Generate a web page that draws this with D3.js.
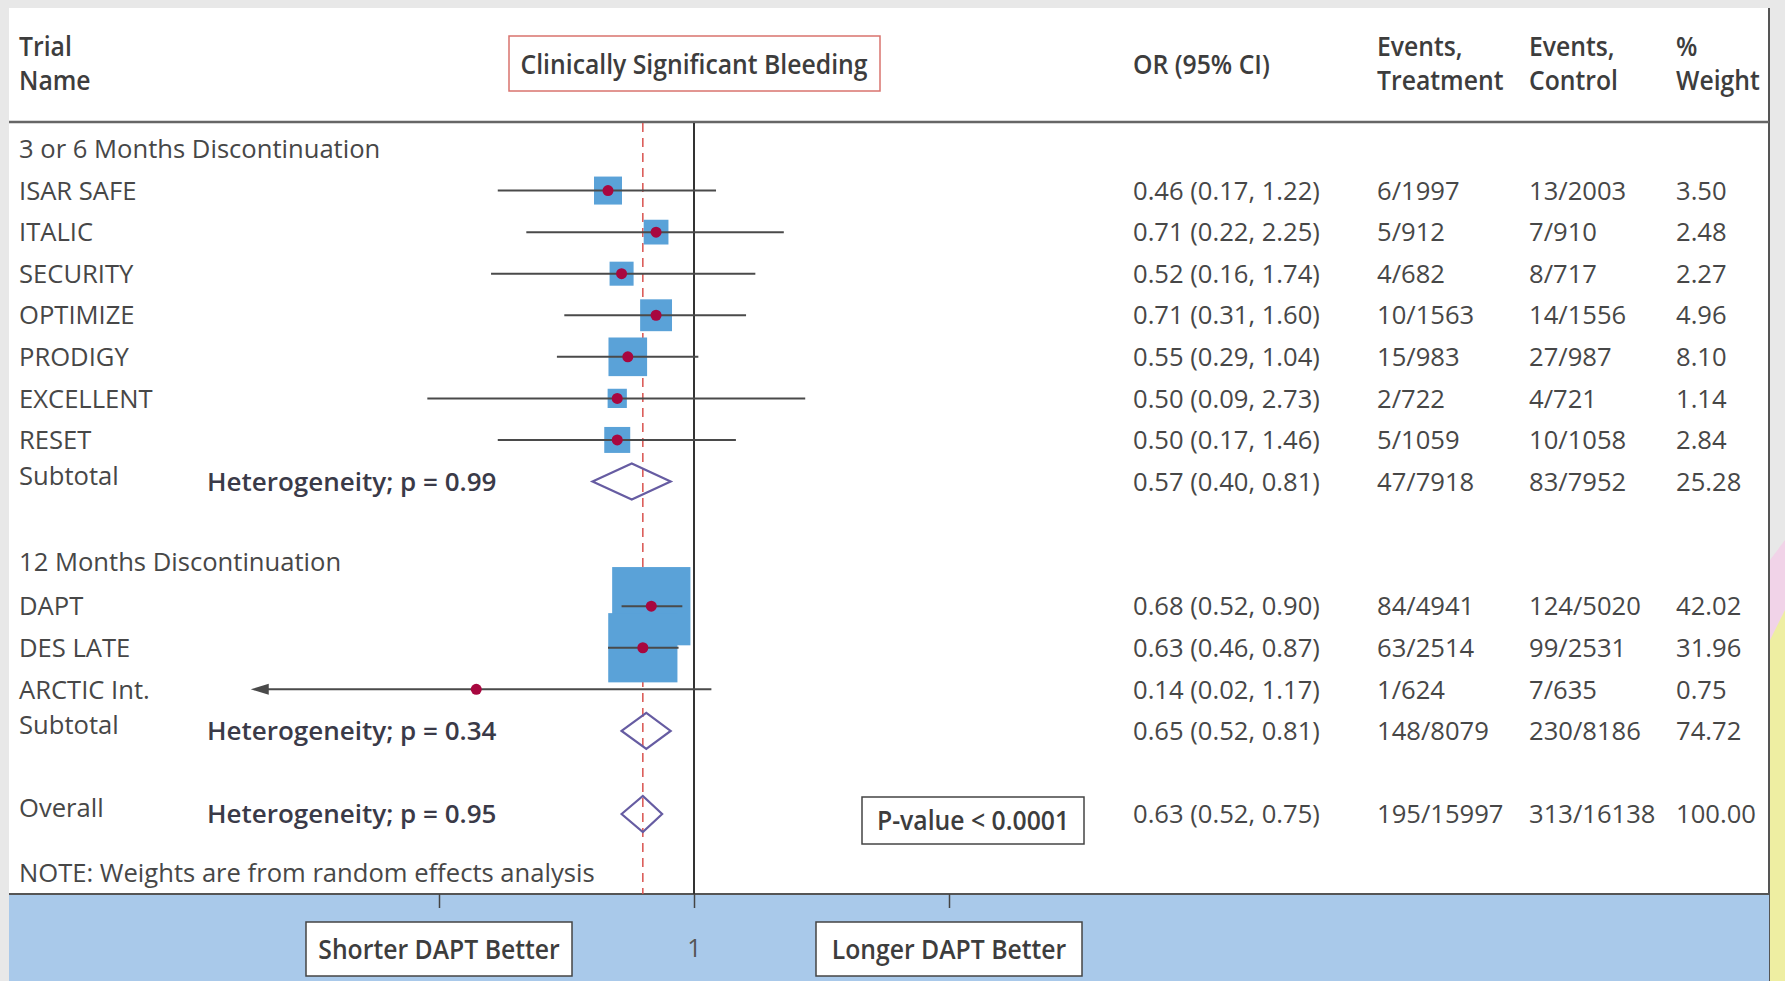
<!DOCTYPE html>
<html>
<head>
<meta charset="utf-8">
<script src="https://cdn.jsdelivr.net/npm/d3@7"></script>
<style>
  body { margin: 0; background: #e8e8e8; }
  svg { display: block; }
</style>
</head>
<body>
<script>
// --------------------------------------
// Forest plot: clinically significant bleeding
// --------------------------------------

// trials
var trialNames = ["ISAR SAFE", "ITALIC", "SECURITY", "OPTIMIZE", "PRODIGY", "EXCELLENT", "RESET",
                  "DAPT", "DES LATE", "ARCTIC Int."];
var trialGroup = [0, 0, 0, 0, 0, 0, 0, 1, 1, 1];
var orValues  = [0.46, 0.71, 0.52, 0.71, 0.55, 0.50, 0.50, 0.68, 0.63, 0.14];
var ciLow     = [0.17, 0.22, 0.16, 0.31, 0.29, 0.09, 0.17, 0.52, 0.46, 0.02];
var ciHigh    = [1.22, 2.25, 1.74, 1.60, 1.04, 2.73, 1.46, 0.90, 0.87, 1.17];
var eventsTreatment = ["6/1997", "5/912", "4/682", "10/1563", "15/983", "2/722", "5/1059",
                       "84/4941", "63/2514", "1/624"];
var eventsControl   = ["13/2003", "7/910", "8/717", "14/1556", "27/987", "4/721", "10/1058",
                       "124/5020", "99/2531", "7/635"];
var weights = [3.50, 2.48, 2.27, 4.96, 8.10, 1.14, 2.84, 42.02, 31.96, 0.75];

// groups and pooled results (last one is overall)
var groupNames = ["3 or 6 Months Discontinuation", "12 Months Discontinuation"];
var summaryLabels = ["Subtotal", "Subtotal", "Overall"];
var summaryHet = ["Heterogeneity; p = 0.99", "Heterogeneity; p = 0.34", "Heterogeneity; p = 0.95"];
var summaryOR   = [0.57, 0.65, 0.63];
var summaryLow  = [0.40, 0.52, 0.52];
var summaryHigh = [0.81, 0.81, 0.75];
var summaryTreatment = ["47/7918", "148/8079", "195/15997"];
var summaryControl   = ["83/7952", "230/8186", "313/16138"];
var summaryWeight    = [25.28, 74.72, 100.00];

var axisTicks = [0.1, 1, 10];
var truncLimit = 0.03;   // CI below this gets an arrow

var W = 1785, H = 981;
var FONT = "'Open Sans', 'DejaVu Sans', sans-serif";
var f2 = d3.format(".2f");

var svg = d3.select("body").append("svg").attr("width", W).attr("height", H);

var x = d3.scaleLog().domain([0.1, 10]).range([439, 949]);
var rowY = d3.scaleLinear().domain([0, 16]).range([149, 814]);
var boxSize = d3.scaleSqrt().domain([0, 100]).range([7.6, 116.6]);

function put(g, px, py, s, o) {
    o = o || {};
    return g.append("text")
        .attr("transform", "translate(" + px + "," + py + ") scale(" + (o.sx || 1) + ",1)")
        .attr("text-anchor", o.anchor || "start")
        .attr("dy", "0.36em")
        .style("font-family", FONT)
        .style("font-size", (o.size || 25.6) + "px")
        .style("font-weight", o.weight || 400)
        .style("fill", o.color || "#474747")
        .text(s);
}

// background decoration at the right edge
svg.append("rect").attr("width", W).attr("height", H).attr("fill", "#e8e8e8");
svg.append("path").attr("d", "M1770,560 L1785,540 L1785,981 L1770,981 Z").attr("fill", "#f1d3e8");
svg.append("path").attr("d", "M1770,640 L1785,610 L1785,981 L1770,981 Z").attr("fill", "#eeeea2");

// white panel
svg.append("rect").attr("x", 9).attr("y", 8).attr("width", 1760).attr("height", H - 8).attr("fill", "#fff");
svg.append("line").attr("x1", 1769).attr("x2", 1769).attr("y1", 8).attr("y2", H)
    .attr("stroke", "#555").attr("stroke-width", 2);

// bottom band
svg.append("rect").attr("x", 9).attr("y", 894).attr("width", 1760).attr("height", H - 894).attr("fill", "#a9c9ea");
svg.append("line").attr("x1", 9).attr("x2", 1769).attr("y1", 894).attr("y2", 894)
    .attr("stroke", "#555").attr("stroke-width", 2);

// header
var head = svg.append("g");
var HS = { size: 27.5, weight: 600, sx: 0.9, color: "#3d3d3d" };
put(head, 19, 46, "Trial", HS);
put(head, 19, 80, "Name", HS);
head.append("rect").attr("x", 509).attr("y", 36).attr("width", 371).attr("height", 55)
    .attr("fill", "#fff").attr("stroke", "#d9736e").attr("stroke-width", 1.5);
put(head, x(1), 64, "Clinically Significant Bleeding", Object.assign({}, HS, { anchor: "middle" }));
put(head, 1133, 64, "OR (95% CI)", HS);
put(head, 1377, 46, "Events,", HS);
put(head, 1377, 80, "Treatment", HS);
put(head, 1529, 46, "Events,", HS);
put(head, 1529, 80, "Control", HS);
put(head, 1676, 46, "%", HS);
put(head, 1676, 80, "Weight", HS);
svg.append("line").attr("x1", 9).attr("x2", 1769).attr("y1", 122).attr("y2", 122)
    .attr("stroke", "#666").attr("stroke-width", 2.5);

// reference lines
var overallOR = summaryOR[summaryOR.length - 1];
svg.append("line").attr("x1", x(overallOR)).attr("x2", x(overallOR)).attr("y1", 123).attr("y2", 894)
    .attr("stroke", "#d9534f").attr("stroke-width", 1.5).attr("stroke-dasharray", "9,6");
svg.append("line").attr("x1", x(1)).attr("x2", x(1)).attr("y1", 123).attr("y2", 894)
    .attr("stroke", "#333").attr("stroke-width", 2);

// axis in the band
var axis = svg.append("g").attr("transform", "translate(0,894)")
    .call(d3.axisBottom(x).tickValues(axisTicks).tickSize(14).tickPadding(31)
        .tickFormat(function(d) { return d === 1 ? "1" : ""; }));
axis.select(".domain").remove();
axis.selectAll(".tick line").attr("stroke", "#444").attr("stroke-width", 1.5);
axis.selectAll(".tick text").style("font-family", FONT).style("font-size", "25px").attr("fill", "#555");

// build rows
var rows = [];
var r = 0;
groupNames.forEach(function(gname, gi) {
    rows.push({ type: "group", idx: r++, label: gname });
    trialNames.forEach(function(name, i) {
        if (trialGroup[i] === gi) rows.push({ type: "trial", idx: r++, i: i });
    });
    rows.push({ type: "summary", idx: r++, i: gi });
    r++;
});
rows.push({ type: "summary", idx: r, i: summaryLabels.length - 1 });

var body = svg.append("g");
var marks = svg.append("g");

rows.filter(function(d) { return d.type === "group"; }).forEach(function(d) {
    put(body, 19, rowY(d.idx) - (d.idx > 0 ? 3 : 0), d.label);
});

var trialRows = rows.filter(function(d) { return d.type === "trial"; });
trialRows.forEach(function(d) {
    var i = d.i, y = rowY(d.idx);
    put(body, 19, y, trialNames[i]);
    put(body, 1133, y, f2(orValues[i]) + " (" + f2(ciLow[i]) + ", " + f2(ciHigh[i]) + ")");
    put(body, 1377, y, eventsTreatment[i]);
    put(body, 1529, y, eventsControl[i]);
    put(body, 1676, y, f2(weights[i]));
});

// squares first, then CI lines, then points
marks.selectAll("rect.wt").data(trialRows.filter(function(d) { return weights[d.i] >= 1; }))
    .enter().append("rect").attr("class", "wt")
    .attr("x", function(d) { return x(orValues[d.i]) - boxSize(weights[d.i]) / 2; })
    .attr("y", function(d) { return rowY(d.idx) - boxSize(weights[d.i]) / 2; })
    .attr("width", function(d) { return boxSize(weights[d.i]); })
    .attr("height", function(d) { return boxSize(weights[d.i]); })
    .attr("fill", "#5aa2d8");

marks.selectAll("line.ci").data(trialRows).enter().append("line").attr("class", "ci")
    .attr("x1", function(d) { return x(ciLow[d.i]); })
    .attr("x2", function(d) { return x(ciHigh[d.i]); })
    .attr("y1", function(d) { return rowY(d.idx); })
    .attr("y2", function(d) { return rowY(d.idx); })
    .attr("stroke", "#4a4a4a").attr("stroke-width", 2);

marks.selectAll("path.arrow").data(trialRows.filter(function(d) { return ciLow[d.i] < truncLimit; }))
    .enter().append("path").attr("class", "arrow")
    .attr("d", function(d) {
        var xl = x(ciLow[d.i]) - 10, y = rowY(d.idx);
        return "M" + xl + "," + y + "L" + (xl + 18) + "," + (y - 5.5) + "L" + (xl + 18) + "," + (y + 5.5) + "Z";
    })
    .attr("fill", "#4a4a4a");

marks.selectAll("circle.pt").data(trialRows).enter().append("circle").attr("class", "pt")
    .attr("cx", function(d) { return x(orValues[d.i]); })
    .attr("cy", function(d) { return rowY(d.idx); })
    .attr("r", 5.5)
    .attr("fill", "#a8073f");

// pooled rows
var sumRows = rows.filter(function(d) { return d.type === "summary"; });
var HB = { weight: 600, size: 26, color: "#3a3a48" };
sumRows.forEach(function(d) {
    var i = d.i, y = rowY(d.idx);
    put(body, 19, y - 6, summaryLabels[i]);
    put(body, 207, y, summaryHet[i], HB);
    put(body, 1133, y, f2(summaryOR[i]) + " (" + f2(summaryLow[i]) + ", " + f2(summaryHigh[i]) + ")");
    put(body, 1377, y, summaryTreatment[i]);
    put(body, 1529, y, summaryControl[i]);
    put(body, 1676, y, f2(summaryWeight[i]));
});

marks.selectAll("path.diamond").data(sumRows).enter().append("path").attr("class", "diamond")
    .attr("d", function(d) {
        var i = d.i, y = rowY(d.idx), h = 18;
        return "M" + x(summaryLow[i]) + "," + y +
               "L" + x(summaryOR[i]) + "," + (y - h) +
               "L" + x(summaryHigh[i]) + "," + y +
               "L" + x(summaryOR[i]) + "," + (y + h) + "Z";
    })
    .attr("fill", "none").attr("stroke", "#665ca2").attr("stroke-width", 2.2);

// p-value box
var pv = svg.append("g");
pv.append("rect").attr("x", 862).attr("y", 797).attr("width", 222).attr("height", 47)
    .attr("fill", "#fff").attr("stroke", "#444").attr("stroke-width", 1.5);
put(pv, 973, 820, "P-value < 0.0001", Object.assign({}, HS, { anchor: "middle" }));

put(body, 19, 873, "NOTE: Weights are from random effects analysis");

// direction labels in the band
[["Shorter DAPT Better", axisTicks[0]], ["Longer DAPT Better", axisTicks[2]]].forEach(function(p) {
    var cx = x(p[1]);
    svg.append("rect").attr("x", cx - 133).attr("y", 922).attr("width", 266).attr("height", 54)
        .attr("fill", "#fff").attr("stroke", "#444").attr("stroke-width", 1.5);
    put(svg, cx, 949, p[0], Object.assign({}, HS, { anchor: "middle" }));
});
</script>
</body>
</html>
